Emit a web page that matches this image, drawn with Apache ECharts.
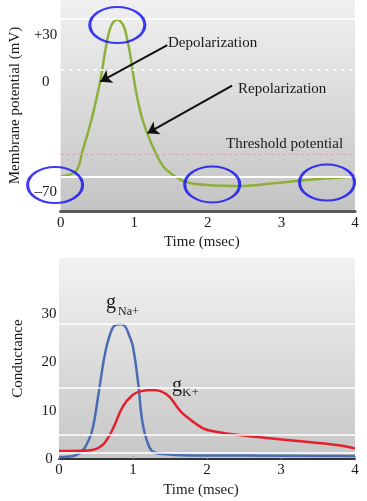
<!DOCTYPE html>
<html>
<head>
<meta charset="utf-8">
<script src="https://cdn.jsdelivr.net/npm/echarts@6/dist/echarts.min.js"></script>
<style>html,body{margin:0;padding:0;background:#fff}#main{width:367px;height:501px}</style>
</head>
<body>
<div id="main"></div>
<script>
// ---- data ----
const xTicks = [0, 1, 2, 3, 4];
const potentialTicks = [30, 0, -70];
const conductanceTicks = [0, 10, 20, 30];

// membrane potential (t in msec, mV)
const membranePotential = [
  [0, -60.2], [0.1, -59.2], [0.2, -57], [0.25, -53], [0.29, -45], [0.36, -34], [0.43, -22],
  [0.54, 1], [0.63, 26], [0.69, 36], [0.77, 39.5], [0.85, 36], [0.9, 28], [0.95, 16],
  [1.02, -5], [1.1, -22], [1.18, -33], [1.29, -45], [1.4, -54], [1.51, -58.5], [1.69, -63.4],
  [1.99, -65.5], [2.44, -66.1], [2.89, -64.4], [3.34, -62.3], [3.96, -60.2], [4, -60]
];
// sodium conductance
const gNa = [
  [0, 0.35], [0.15, 0.5], [0.23, 0.83], [0.3, 1.5], [0.36, 2.6], [0.45, 6], [0.54, 14.1],
  [0.63, 22.4], [0.72, 27], [0.78, 27.8], [0.84, 27.9], [0.9, 27.3], [0.95, 25.5], [1.0, 23.2],
  [1.07, 15.7], [1.13, 7.4], [1.22, 2.5], [1.3, 1.3], [1.45, 1.0], [1.67, 0.8], [2.5, 0.7], [4, 0.6]
];
// potassium conductance
const gK = [
  [0, 1.65], [0.3, 1.7], [0.45, 1.86], [0.59, 2.9], [0.72, 6], [0.86, 10.8], [0.99, 13.2],
  [1.1, 14], [1.27, 14.3], [1.38, 14], [1.49, 12.9], [1.63, 10.1], [1.72, 8.8], [1.94, 6.4],
  [2.1, 5.7], [2.4, 5.0], [2.85, 4.3], [3.3, 3.6], [3.75, 2.9], [4, 2.2]
];
// annotation anchors (data coordinates)
const highlightPoints = [[0.77, 36.1], [-0.075, -65.5], [2.06, -65.1], [3.62, -63.9]];
const depolArrow = [[1.45, 23.4], [0.54, 0.1]];
const repolArrow = [[2.33, -2.4], [1.18, -32.6]];
const potentialGuides = [40, 8, -46, -60.5];
const conductanceGuides = [28, 14.7, 5, 1.2];

// ---- chart ----
const FONT = '"Liberation Serif", "DejaVu Serif", serif';
const chart = echarts.init(document.getElementById('main'));

function grad(top, bottom) {
  return new echarts.graphic.LinearGradient(0, 0, 0, 1, [
    { offset: 0, color: top }, { offset: 1, color: bottom }
  ]);
}
const guideStylesTop = [
  { color: '#ffffff', width: 1.5, type: 'solid' },
  { color: '#ffffff', width: 1.5, type: [4, 4] },
  { color: '#d8a4ac', width: 1, type: [3, 3] },
  { color: '#ffffff', width: 2, type: 'solid' }
];
const labelStyle = { fontFamily: FONT, fontSize: 15, color: '#1a1a1a' };

const option = {
  animation: false,
  grid: [
    { left: 59, width: 296, top: 0, height: 211, show: true, borderWidth: 0,
      backgroundColor: grad('#f0f0f0', '#c4c4c4') },
    { left: 59, width: 296, top: 258, height: 201, show: true, borderWidth: 0,
      backgroundColor: grad('#f2f2f2', '#c6c6c6') }
  ],
  xAxis: [
    { gridIndex: 0, type: 'value', min: 0, max: 4, interval: 1,
      axisLine: { onZero: false, lineStyle: { color: '#5a5a5a', width: 3 } },
      axisTick: { show: false }, splitLine: { show: false },
      axisLabel: Object.assign({ margin: 5, formatter: v => xTicks.includes(v) ? String(v) : '' }, labelStyle),
      name: 'Time (msec)', nameLocation: 'middle', nameGap: 24,
      nameTextStyle: Object.assign({ padding: [0, 12, 0, 0] }, labelStyle) },
    { gridIndex: 1, type: 'value', min: 0, max: 4, interval: 1,
      axisLine: { onZero: false, lineStyle: { color: '#333', width: 2 } },
      axisTick: { show: true, inside: true, length: 3, lineStyle: { color: '#aaa' } },
      splitLine: { show: false },
      axisLabel: Object.assign({ margin: 4, formatter: v => xTicks.includes(v) ? String(v) : '' }, labelStyle),
      name: 'Time (msec)', nameLocation: 'middle', nameGap: 24,
      nameTextStyle: Object.assign({ padding: [0, 12, 0, 0] }, labelStyle) }
  ],
  yAxis: [
    { gridIndex: 0, type: 'value', min: -82, max: 52, interval: 2,
      axisLine: { show: false }, axisTick: { show: false }, splitLine: { show: false },
      axisLabel: Object.assign({ margin: 15, align: 'center',
        formatter: v => potentialTicks.includes(v) ? (v > 0 ? '+' + v : (v < 0 ? '\u2013' + Math.abs(v) : '0')) : '' }, labelStyle),
      name: 'Membrane potential (mV)', nameLocation: 'middle', nameGap: 33, nameTextStyle: labelStyle },
    { gridIndex: 1, type: 'value', min: 0, max: 41.6, interval: 10,
      axisLine: { show: false }, axisTick: { show: false }, splitLine: { show: false },
      axisLabel: Object.assign({ margin: 10, align: 'center',
        formatter: v => conductanceTicks.includes(v) ? String(v) : '' }, labelStyle),
      name: 'Conductance', nameLocation: 'middle', nameGap: 33, nameTextStyle: labelStyle }
  ],
  series: [
    { type: 'line', xAxisIndex: 0, yAxisIndex: 0, data: [], z: 1, silent: true,
      markLine: { silent: true, symbol: ['none', 'none'], label: { show: false },
        data: potentialGuides.map((v, i) => ({ yAxis: v, lineStyle: guideStylesTop[i] })) } },
    { type: 'line', xAxisIndex: 1, yAxisIndex: 1, data: [], z: 1, silent: true,
      markLine: { silent: true, symbol: ['none', 'none'], label: { show: false },
        data: conductanceGuides.map(v => ({ yAxis: v, lineStyle: { color: '#ffffff', width: 1.5, type: 'solid' } })) } },
    { name: 'Membrane potential', type: 'line', xAxisIndex: 0, yAxisIndex: 0, z: 3,
      data: membranePotential, smooth: 0.4, showSymbol: false,
      lineStyle: { color: '#8cb03a', width: 2.5 } },
    { type: 'line', xAxisIndex: 0, yAxisIndex: 0, data: [], z: 6, silent: true,
      markLine: { silent: true, symbol: ['none', 'arrow'], symbolSize: 11, label: { show: false },
        lineStyle: { color: '#111', width: 2, type: 'solid' },
        data: [
          [{ coord: depolArrow[0] }, { coord: depolArrow[1] }],
          [{ coord: repolArrow[0] }, { coord: repolArrow[1] }]
        ] } },
    { type: 'scatter', xAxisIndex: 0, yAxisIndex: 0, data: highlightPoints, z: 7, clip: false, silent: true,
      symbol: 'circle', symbolSize: [55, 36],
      itemStyle: { color: 'rgba(0,0,0,0)', borderColor: '#0c0cf2', borderWidth: 2.5 } },
    { name: 'gNa+', type: 'line', xAxisIndex: 1, yAxisIndex: 1, z: 3,
      data: gNa, smooth: 0.4, showSymbol: false,
      lineStyle: { color: '#4a6cb3', width: 2.5 } },
    { name: 'gK+', type: 'line', xAxisIndex: 1, yAxisIndex: 1, z: 3,
      data: gK, smooth: 0.4, showSymbol: false,
      lineStyle: { color: '#e3202b', width: 2.5 } }
  ],
  graphic: [
    { type: 'text', x: 168, y: 43, style: { text: 'Depolarization', font: '15px ' + FONT, fill: '#1a1a1a', verticalAlign: 'middle' } },
    { type: 'text', x: 238, y: 89, style: { text: 'Repolarization', font: '15px ' + FONT, fill: '#1a1a1a', verticalAlign: 'middle' } },
    { type: 'text', x: 226, y: 144, style: { text: 'Threshold potential', font: '15px ' + FONT, fill: '#1a1a1a', verticalAlign: 'middle' } },
    { type: 'text', x: 106, y: 303, style: { text: 'g', font: '20px ' + FONT, fill: '#1a1a1a', verticalAlign: 'middle' } },
    { type: 'text', x: 118, y: 312, style: { text: 'Na+', font: '12px ' + FONT, fill: '#1a1a1a', verticalAlign: 'middle' } },
    { type: 'text', x: 172, y: 386, style: { text: 'g', font: '20px ' + FONT, fill: '#1a1a1a', verticalAlign: 'middle' } },
    { type: 'text', x: 182, y: 393, style: { text: 'K+', font: '13px ' + FONT, fill: '#1a1a1a', verticalAlign: 'middle' } }
  ]
};
chart.setOption(option);
</script>
</body>
</html>
